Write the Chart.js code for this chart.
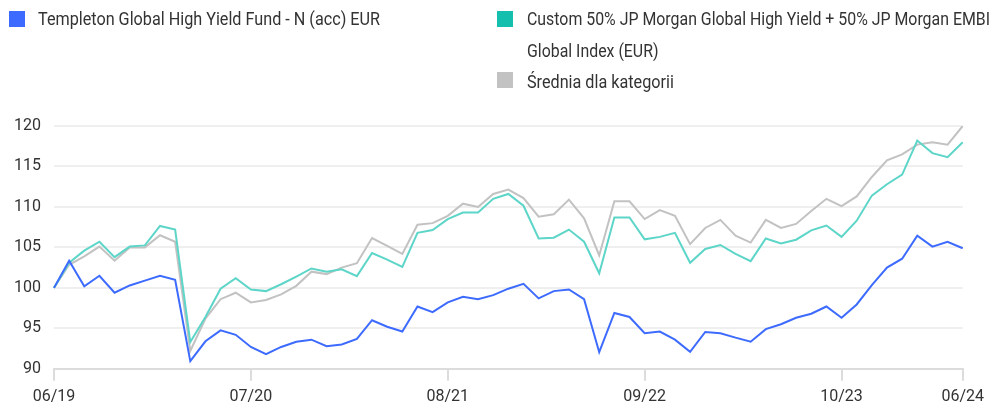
<!DOCTYPE html>
<html>
<head>
<meta charset="utf-8">
<script src="https://cdn.jsdelivr.net/npm/chart.js@4/dist/chart.umd.min.js"></script>
<style>
  html, body { margin: 0; padding: 0; background: #fff; }
  #wrap { position: relative; width: 991px; height: 408px; overflow: hidden; }
  #wrap canvas { position: absolute; left: 0; top: 0; }
  .leg { position: absolute; display: flex; align-items: flex-start; white-space: nowrap;
         font: 19px Roboto, 'DejaVu Sans Condensed', sans-serif;
         line-height: 31.5px; color: #333; }
  .sw { flex: none; width: 16px; height: 16px; margin-top: 8px; margin-right: 13px; }
  .lt { display: inline-block; transform-origin: 0 0; }
</style>
</head>
<body>
<div id="wrap">
  <canvas id="myChart" width="991" height="414"></canvas>
  <div class="leg" style="left:9px; top:3px"><span class="sw" style="background:#3d6bff"></span><span class="lt" id="t1">Templeton Global High Yield Fund - N (acc) EUR</span></div>
  <div class="leg" style="left:497px; top:3px"><span class="sw" style="background:#14bfae; margin-right:14px"></span><span class="lt" id="t2"><span id="t2a">Custom 50% JP Morgan Global High Yield + 50% JP Morgan EMBI</span><br>Global Index (EUR)</span></div>
  <div class="leg" style="left:497px; top:66px"><span class="sw" style="background:#c2c2c2; margin-top:6px; margin-right:14px"></span><span class="lt" id="t3">Średnia dla kategorii</span></div>
</div>
<script>
const months = [
  '06/19','07/19','08/19','09/19','10/19','11/19','12/19',
  '01/20','02/20','03/20','04/20','05/20','06/20','07/20','08/20','09/20','10/20','11/20','12/20',
  '01/21','02/21','03/21','04/21','05/21','06/21','07/21','08/21','09/21','10/21','11/21','12/21',
  '01/22','02/22','03/22','04/22','05/22','06/22','07/22','08/22','09/22','10/22','11/22','12/22',
  '01/23','02/23','03/23','04/23','05/23','06/23','07/23','08/23','09/23','10/23','11/23','12/23',
  '01/24','02/24','03/24','04/24','05/24','06/24'
];
const tickLabels = ['06/19', '07/20', '08/21', '09/22', '10/23', '06/24'];

const fund = [100, 103.35, 100.2, 101.5, 99.4, 100.3, 100.9, 101.5, 101.0, 90.95, 93.4, 94.75, 94.2, 92.7,
  91.8, 92.7, 93.35, 93.6, 92.8, 93.0, 93.7, 96.0, 95.2, 94.6, 97.7, 97.0, 98.2, 98.9,
  98.6, 99.1, 99.9, 100.5, 98.7, 99.6, 99.8, 98.6, 92.05, 96.9, 96.4, 94.4, 94.6,
  93.6, 92.1, 94.55, 94.4, 93.85, 93.35, 94.9, 95.5, 96.3, 96.8, 97.7, 96.3,
  97.95, 100.35, 102.5, 103.6, 106.45, 105.1, 105.7, 104.9];

const benchmark = [100, 103.1, 104.6, 105.7, 103.8, 105.1, 105.25, 107.65, 107.2, 93.3, 96.4, 99.9, 101.2, 99.8,
  99.6, 100.45, 101.4, 102.4, 102.0, 102.3, 101.45, 104.3, 103.5, 102.6, 106.8, 107.15, 108.5, 109.3,
  109.3, 111.0, 111.6, 110.15, 106.1, 106.2, 107.2, 105.7, 101.8, 108.7, 108.7, 106.0, 106.3,
  106.8, 103.1, 104.8, 105.3, 104.2, 103.3, 106.1, 105.5, 105.95, 107.1, 107.7, 106.3,
  108.3, 111.4, 112.8, 114.0, 118.2, 116.65, 116.15, 118.0];

const category = [100, 102.85, 103.9, 105.1, 103.35, 105.0, 105.0, 106.5, 105.7, 92.2, 96.2, 98.6, 99.4, 98.2,
  98.5, 99.2, 100.25, 102.0, 101.7, 102.5, 103.05, 106.15, 105.2, 104.2, 107.8, 108.0, 108.9, 110.4,
  110.0, 111.6, 112.15, 111.1, 108.8, 109.1, 110.9, 108.6, 104.0, 110.7, 110.7, 108.5, 109.6,
  108.9, 105.4, 107.4, 108.4, 106.45, 105.6, 108.4, 107.4, 107.9, 109.5, 111.0, 110.1,
  111.3, 113.7, 115.75, 116.5, 117.7, 118.0, 117.7, 120.0];

// squeeze legend text to the narrow look of the original
const k = 342 / document.getElementById('t1').getBoundingClientRect().width;
const k2 = Math.min(k, 463 / document.getElementById('t2a').getBoundingClientRect().width);
document.getElementById('t1').style.transform = 'scaleX(' + k + ')';
document.getElementById('t2').style.transform = 'scaleX(' + k2 + ')';
document.getElementById('t3').style.transform = 'scaleX(' + k + ')';

const font = { family: "Roboto, sans-serif", size: 16 };

const ctx = document.getElementById('myChart');

let chart = new Chart(ctx, {
  type: 'line',
  data: {
    labels: months,
    datasets: [
      { label: 'Templeton Global High Yield Fund - N (acc) EUR', data: fund, borderColor: '#3d6bff' },
      { label: 'Custom 50% JP Morgan Global High Yield + 50% JP Morgan EMBI Global Index (EUR)', data: benchmark, borderColor: '#5dd5c8' },
      { label: 'Średnia dla kategorii', data: category, borderColor: '#c2c2c2' }
    ]
  },
  options: {
    responsive: false,
    animation: false,
    elements: {
      point: { radius: 0 },
      line: { borderWidth: 2, tension: 0 }
    },
    layout: { padding: { top: 126, left: 1, right: 25, bottom: 0 } },
    plugins: {
      legend: { display: false },
      tooltip: { enabled: false }
    },
    scales: {
      x: {
        offset: false,
        afterBuildTicks: (scale) => {
          scale.ticks = scale.ticks.filter(t => tickLabels.includes(months[t.value]));
        },
        ticks: { autoSkip: false, maxRotation: 0, color: '#333', font: font, padding: 7 },
        grid: { drawOnChartArea: false, drawTicks: true, tickLength: 12, color: '#dcdcdc', lineWidth: 2 },
        border: { display: true, color: '#dcdcdc', width: 2 }
      },
      y: {
        min: 90,
        max: 120,
        ticks: { stepSize: 5, color: '#333', font: font, padding: 13 },
        grid: { drawTicks: false, color: '#efefef', lineWidth: 2 },
        border: { display: false }
      }
    }
  }
});
</script>
</body>
</html>
